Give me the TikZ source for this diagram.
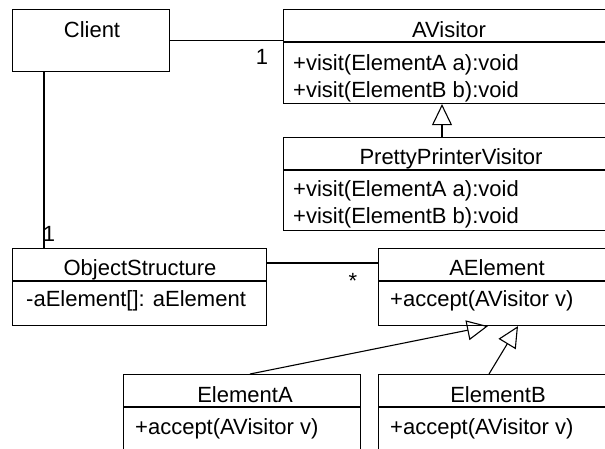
\documentclass[tikz,border=0pt]{standalone}
\usepackage{fontspec}
\setmainfont{Liberation Sans}
\usetikzlibrary{arrows.meta,calc}
\begin{document}
\begin{tikzpicture}[x=1pt,y=-1pt,
  box/.style={draw, line width=1.1pt, rectangle, inner sep=0pt, anchor=north west},
  txt/.style={font=\fontsize{22}{26}\selectfont, inner sep=0pt, anchor=base},
  rowtxt/.style={txt, anchor=base west},
  lbl/.style={font=\fontsize{22}{26}\selectfont, inner sep=0pt},
  conn/.style={line width=1.1pt},
  inherit/.style={conn, -{Triangle[open, length=21pt, width=20pt]}}]
\useasboundingbox (0,0) rectangle (605,448);
\clip (0,0) rectangle (605,448);
\fill[white] (0,0) rectangle (605,448);

% boxes
\node[box, minimum width=157pt, minimum height=62pt] (client) at (12,9) {};
\node[box, minimum width=332pt, minimum height=94pt] (avisitor) at (283,9) {};
\node[box, minimum width=332pt, minimum height=93pt] (ppv) at (283,137) {};
\node[box, minimum width=254pt, minimum height=77pt] (os) at (12,248) {};
\node[box, minimum width=237pt, minimum height=77pt] (ae) at (378,248) {};
\node[box, minimum width=237pt, minimum height=90pt] (ea) at (123,374) {};
\node[box, minimum width=237pt, minimum height=90pt] (eb) at (378,374) {};

% compartment separators
\foreach \b in {avisitor,ppv,os,ae,ea,eb}
  \draw[conn] ($(\b.north west)+(0,33)$) -- ($(\b.north east)+(0,33)$);

% texts
\node[txt] (tclient) at (92,37) {Client};
\node[txt] (tav) at (449,37) {AVisitor};
\node[rowtxt] (tav1) at (293,70) {+visit(ElementA a):void};
\node[rowtxt] (tav2) at (293,97) {+visit(ElementB b):void};
\node[txt] (tppv) at (451,164) {PrettyPrinterVisitor};
\node[rowtxt] (tppv1) at (293,196) {+visit(ElementA a):void};
\node[rowtxt] (tppv2) at (293,223) {+visit(ElementB b):void};
\node[txt] (tos) at (140,275) {ObjectStructure};
\node[rowtxt] (tos1) at (26,306) {-aElement[]: aElement};
\node[txt] (tae) at (497,275) {AElement};
\node[rowtxt] (tae1) at (390,306) {+accept(AVisitor v)};
\node[txt] (tea) at (245,402) {ElementA};
\node[rowtxt] (tea1) at (135,434) {+accept(AVisitor v)};
\node[txt] (teb) at (498,402) {ElementB};
\node[rowtxt] (teb1) at (390,434) {+accept(AVisitor v)};

% connectors
\draw[conn] (client.east) -- (client.east -| avisitor.west);
\coordinate (cs) at ($(client.south west)+(32,0)$);
\draw[conn] (cs) -- (cs |- os.north);
\coordinate (oe) at ($(os.north east)+(0,15)$);
\draw[conn] (oe) -- (oe -| ae.west);

\draw[inherit] ($(ppv.north west)+(159,0)$) -- ($(avisitor.south west)+(159,0)$);
\draw[inherit] ($(ea.north west)+(127,0)$) -- ($(ae.south west)+(110,0)$);
\draw[inherit] ($(eb.north west)+(111,0)$) -- ($(ae.south west)+(140,0)$);

% multiplicities
\node[lbl] (m1) at (262,57) {1};
\node[lbl] (m2) at (49,234) {1};
\node[lbl] (m3) at (353,281) {*};
\end{tikzpicture}
\end{document}
